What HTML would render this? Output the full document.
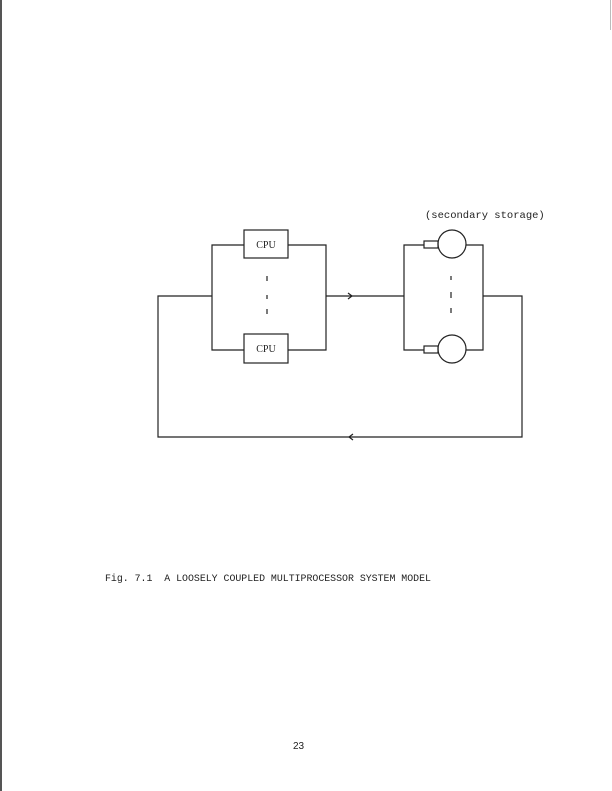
<!DOCTYPE html>
<html><head><style>
html,body{margin:0;padding:0;background:#fff;}
body{width:612px;height:791px;position:relative;overflow:hidden;}
text{white-space:pre;}
</style></head><body>
<svg width="612" height="791" viewBox="0 0 612 791" xmlns="http://www.w3.org/2000/svg" style="position:absolute;left:0;top:0">
<rect x="0" y="0" width="2" height="791" fill="#555"/>
<line x1="610.5" y1="0" x2="610.5" y2="30" stroke="#bbb" stroke-width="1"/>
<g fill="none" stroke="#222" stroke-width="1.2">
<polyline points="212,296 158,296 158,437 522,437 522,296 483,296"/>
<line x1="326" y1="296" x2="404" y2="296"/>
<polyline points="348,293 352,296 348,299"/>
<polyline points="353,434 349,437 353,440"/>
<polyline points="244,245 212,245 212,350 244,350"/>
<polyline points="288,245 326,245 326,350 288,350"/>
<rect x="244" y="230" width="44" height="28"/>
<rect x="244" y="334" width="44" height="29"/>
<polyline points="424,245 404,245 404,350 424,350"/>
<polyline points="466,245 483,245 483,350 466,350"/>
<rect x="424" y="241" width="14" height="7"/>
<rect x="424" y="346" width="14" height="7"/>
<circle cx="452" cy="244" r="14"/>
<circle cx="452" cy="349" r="14"/>
</g>
<g stroke="#222" stroke-width="1.2">
<line x1="267" y1="276" x2="267" y2="281"/>
<line x1="267" y1="295" x2="267" y2="299"/>
<line x1="267" y1="309" x2="267" y2="314"/>
<line x1="451" y1="276" x2="451" y2="280"/>
<line x1="451" y1="292" x2="451" y2="298"/>
<line x1="451" y1="308" x2="451" y2="313"/>
</g>
<g font-family="Liberation Serif, serif" font-size="10" fill="#222" text-anchor="middle">
<text x="266" y="248">CPU</text>
<text x="266" y="352">CPU</text>
</g>
<text x="425" y="218" font-family="Liberation Mono, monospace" font-size="10.5" fill="#222">(secondary storage)</text>
<text x="105" y="581" xml:space="preserve" font-family="Liberation Mono, monospace" font-size="9.9" fill="#222">Fig. 7.1  A LOOSELY COUPLED MULTIPROCESSOR SYSTEM MODEL</text>
<text x="293" y="749" font-family="Liberation Sans, sans-serif" font-size="10" fill="#222">23</text>
</svg>
</body></html>
